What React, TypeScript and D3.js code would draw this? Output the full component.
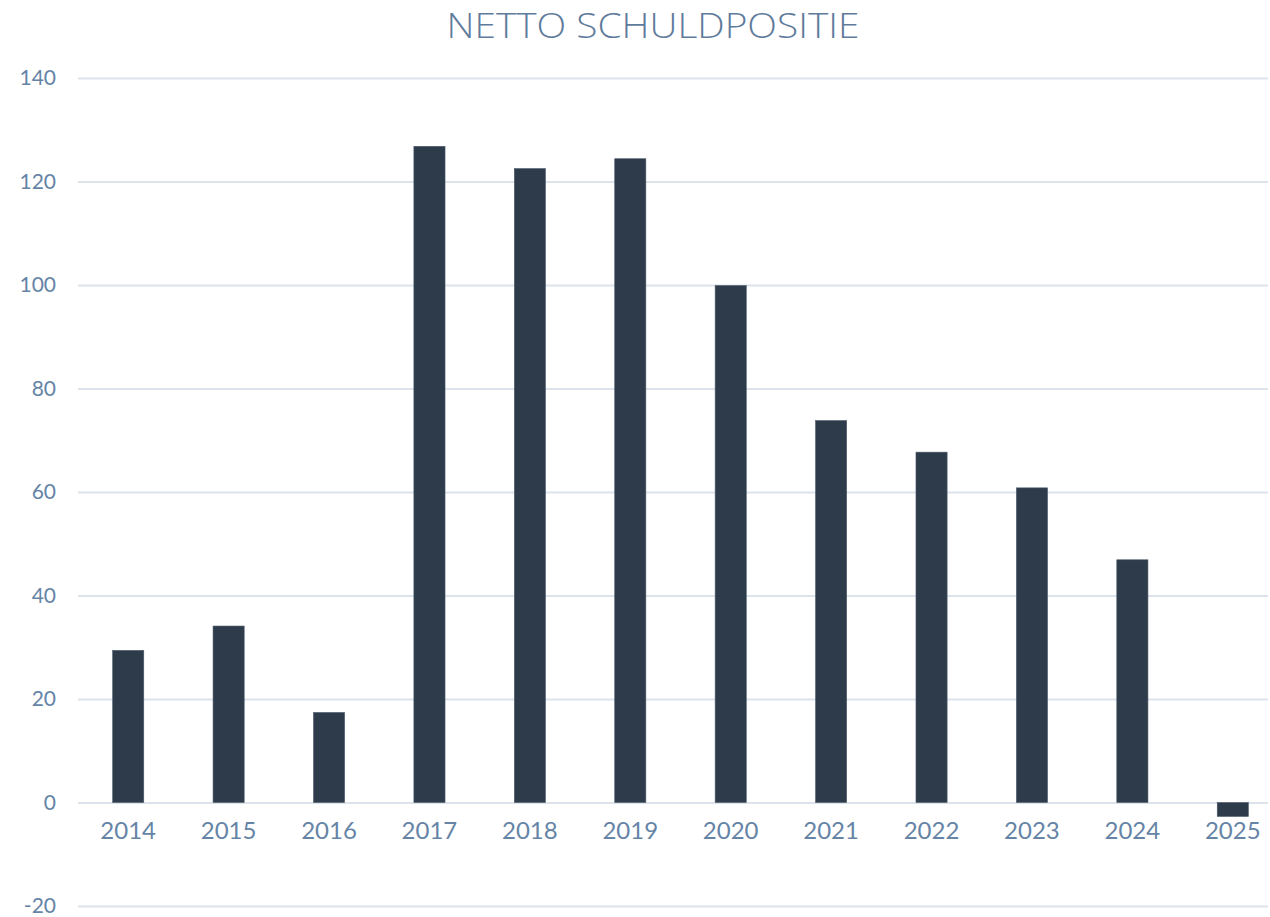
import React, { useEffect, useRef } from 'react'
import * as d3 from 'd3'

const years = ['2014', '2015', '2016', '2017', '2018', '2019', '2020', '2021', '2022', '2023', '2024', '2025']
const values = [29.4, 34.1, 17.4, 126.8, 122.5, 124.4, 99.9, 73.8, 67.7, 60.8, 46.9, -2.7]
const yTicks = [-20, 0, 20, 40, 60, 80, 100, 120, 140]
const title = 'NETTO SCHULDPOSITIE'

const W = 1270
const H = 917

export default function App() {
  const svgRef = useRef(null)

  useEffect(() => {
    const svgEl = d3.select(svgRef.current)
    svgEl.selectAll('*').remove()

    const y = d3.scaleLinear().domain([-20, 140]).range([906, 78])
    const x = d3.scaleBand().domain(years).range([78, 1283]).paddingInner(0.69).paddingOuter(0.345)

    // title
    svgEl
      .append('text')
      .attr('x', 653)
      .attr('y', 38)
      .attr('text-anchor', 'middle')
      .attr('font-family', 'Open Sans')
      .attr('font-weight', 300)
      .attr('font-size', 34)
      .attr('textLength', 413)
      .attr('lengthAdjust', 'spacingAndGlyphs')
      .attr('fill', '#5f7b9c')
      .text(title)

    // grid + y labels
    const yAxisGroup = svgEl.append('g').attr('transform', 'translate(78,0)').call(
      d3
        .axisLeft(y)
        .tickValues(yTicks)
        .tickFormat((d) => String(d))
        .tickSize(-1190)
        .tickPadding(22)
    )
    yAxisGroup.select('.domain').remove()
    yAxisGroup.selectAll('line').attr('stroke', '#dce3eb').attr('stroke-width', 2)
    yAxisGroup
      .selectAll('text')
      .attr('fill', '#6584a6')
      .attr('font-family', 'Lato')
      .attr('font-size', 21)

    // bars
    svgEl
      .append('g')
      .selectAll('rect')
      .data(values)
      .enter()
      .append('rect')
      .attr('x', (d, i) => x(years[i]))
      .attr('width', x.bandwidth())
      .attr('y', (d) => y(Math.max(0, d)))
      .attr('height', (d) => Math.abs(y(d) - y(0)))
      .attr('fill', '#2d3b4b')
      .attr('stroke', '#4c5a6a')
      .attr('stroke-width', 0.6)

    // x labels
    const xAxisGroup = svgEl
      .append('g')
      .attr('transform', `translate(0, ${y(0)})`)
      .call(d3.axisBottom(x).tickSize(0).tickPadding(19))
    xAxisGroup.select('.domain').remove()
    xAxisGroup
      .selectAll('text')
      .attr('fill', '#6584a6')
      .attr('font-family', 'Lato')
      .attr('font-size', 24)
  }, [])

  return (
    <svg
      ref={svgRef}
      width={W}
      height={H}
      style={{ position: 'absolute', left: 0, top: 0, background: '#fff' }}
    />
  )
}
